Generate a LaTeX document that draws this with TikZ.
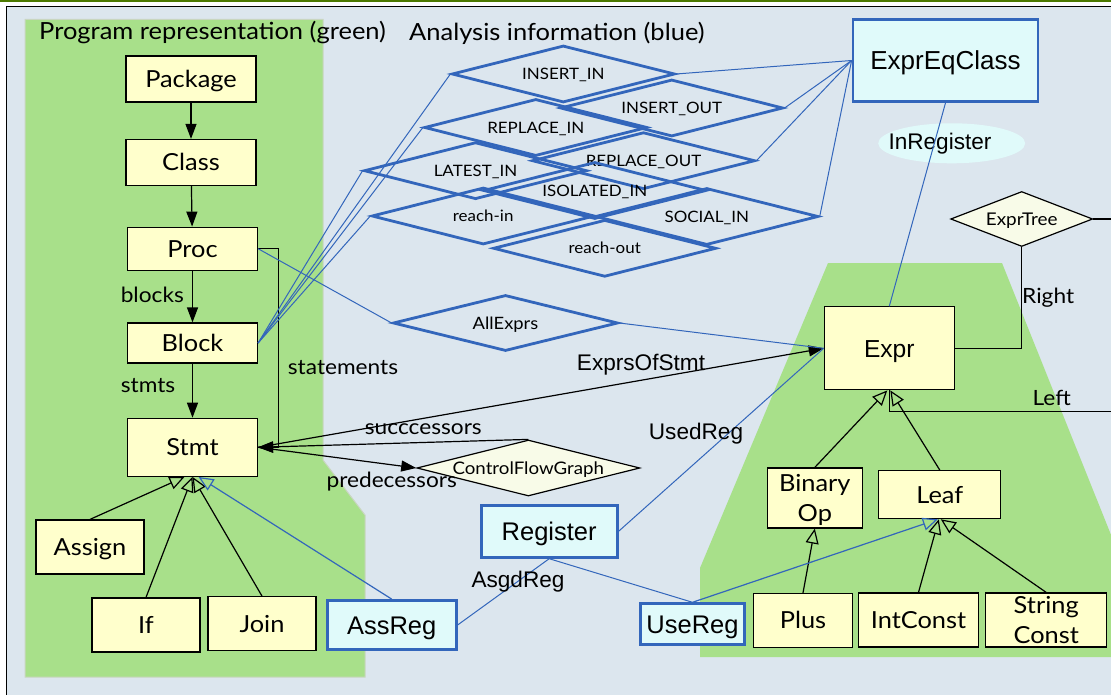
\documentclass[tikz,border=0pt]{standalone}
\usepackage{fontspec}
\setmainfont{Lato}[FakeStretch=1.08]
\newfontfamily\arialfont{Liberation Sans}
\usetikzlibrary{arrows.meta,shapes.geometric}
\definecolor{bgblue}{HTML}{DCE6EE}
\definecolor{pgreen}{HTML}{A8E08A}
\definecolor{pgreenedge}{HTML}{C9D6C0}
\definecolor{boxyellow}{HTML}{FFFFCC}
\definecolor{lineblue}{HTML}{3366BB}
\definecolor{cyanfill}{HTML}{E0FAFA}
\definecolor{relfill}{HTML}{F8FBE8}
\definecolor{topgreen}{HTML}{4C7A00}
\tikzset{
  pbox/.style={draw=black, line width=1.2pt, fill=boxyellow, inner sep=0pt,
    align=center, font=\fontsize{23.5}{30}\selectfont, text height=16.8pt, text depth=0pt},
  twoline/.style={text height=46.8pt, text depth=0pt},
  abox/.style={draw=lineblue, line width=2.8pt, fill=cyanfill, inner sep=0pt,
    font=\arialfont\fontsize{25.5}{28}\selectfont, text height=18.3pt, text depth=0pt},
  bluerel/.style={diamond, aspect=3.9, draw=lineblue, line width=2.8pt, inner sep=0pt,
    minimum width=223, minimum height=57, font=\fontsize{15.7}{18}\selectfont,
    text height=11.2pt, text depth=0pt},
  blackrel/.style={diamond, draw=black, line width=1.2pt, fill=relfill, inner sep=0pt,
    font=\fontsize{17.3}{19}\selectfont, text height=12.4pt, text depth=0pt},
  lbl/.style={inner sep=0pt, font=\fontsize{21}{24}\selectfont},
  alabel/.style={inner sep=0pt, font=\arialfont\fontsize{22.6}{25}\selectfont},
  arr/.style={draw=black, line width=1.2pt, -{Triangle[length=15pt,width=11pt]}},
  inh/.style={draw=black, line width=1.2pt, -{Triangle[open,length=15pt,width=13pt]}},
  blueinh/.style={draw=lineblue, line width=1.2pt, -{Triangle[open,length=15pt,width=13pt]}},
  blueline/.style={draw=lineblue, line width=1pt},
}
\begin{document}
\begin{tikzpicture}[x=1pt,y=-1pt]
\useasboundingbox (0,0) rectangle (1111,695);
\clip (0,0) rectangle (1111,695);
% frame and background
\fill[white] (0,0) rectangle (1111,695);
\fill[topgreen] (0,0) rectangle (1111,1.8);
\fill[bgblue] (6.5,6.5) rectangle (1120,700);
\draw[black, line width=1.3pt] (6.5,700) -- (6.5,6.5) -- (1120,6.5);
% green areas: program representation
\filldraw[fill=pgreen, draw=pgreenedge, line width=1pt]
  (25,19.3) -- (323,19.3) -- (323,460) -- (365,515) -- (365,677) -- (25,677) -- cycle;
\fill[pgreen] (828,263) -- (1002,263) -- (1160,657) -- (700,657) -- (700,568) -- cycle;
% headings
\node[lbl, anchor=west, font=\fontsize{23.6}{26}\selectfont] (hprog) at (39,33) {Program representation (green)};
\node[lbl, anchor=west, font=\fontsize{23.6}{26}\selectfont] (hana) at (409,33) {Analysis information (blue)};

% program classes
\node[pbox, minimum width=130, minimum height=46] (package) at (191,79) {Package};
\node[pbox, minimum width=130, minimum height=46] (class) at (191,162.5) {Class};
\node[pbox, minimum width=130, minimum height=43] (proc) at (192.5,248.7) {Proc};
\node[pbox, minimum width=130, minimum height=40] (block) at (192.5,343) {Block};
\node[pbox, minimum width=130, minimum height=58] (stmt) at (192.5,447.3) {Stmt};
\node[pbox, minimum width=108, minimum height=54] (assign) at (90,547) {Assign};
\node[pbox, minimum width=108, minimum height=54] (if) at (146,625) {If};
\node[pbox, minimum width=108, minimum height=54] (join) at (262,623.7) {Join};
\node[pbox, minimum width=130, minimum height=83, font=\arialfont\fontsize{24.6}{28}\selectfont, text height=17.6pt] (expr) at (889.3,348.3) {Expr};
\node[pbox, twoline, minimum width=95, minimum height=60] (binop) at (814.8,498) {Binary\\Op};
\node[pbox, minimum width=122, minimum height=48] (leaf) at (939.8,494.7) {Leaf};
\node[pbox, minimum width=99, minimum height=54] (plus) at (803,620.5) {Plus};
\node[pbox, minimum width=120, minimum height=54] (intconst) at (918.5,620) {IntConst};
\node[pbox, twoline, minimum width=121, minimum height=54] (strconst) at (1046.2,620) {String\\Const};

% analysis classes
\node[abox, minimum width=185, minimum height=82, font=\arialfont\fontsize{26}{28}\selectfont, text height=18.6pt] (expreq) at (945.5,60.5) {ExprEqClass};
\node[abox, minimum width=136, minimum height=52] (register) at (549.2,531.3) {Register};
\node[abox, minimum width=129, minimum height=49] (assreg) at (391.7,625) {AssReg};
\node[abox, minimum width=104, minimum height=41] (usereg) at (692.5,624.2) {UseReg};

% analysis relations
\node[bluerel] (insertin) at (563.3,74) {INSERT\_IN};
\node[bluerel] (insertout) at (671.7,108) {INSERT\_OUT};
\node[bluerel] (replacein) at (535.8,127.5) {REPLACE\_IN};
\node[bluerel] (replaceout) at (643.5,160.7) {REPLACE\_OUT};
\node[bluerel] (latestin) at (475.5,170.7) {LATEST\_IN};
\node[bluerel] (isolatedin) at (594.8,190.5) {ISOLATED\_IN};
\node[bluerel] (reachin) at (483.2,216) {reach-in};
\node[bluerel] (socialin) at (706.8,216.5) {SOCIAL\_IN};
\node[bluerel] (reachout) at (604.7,248.3) {reach-out};
\node[bluerel, minimum width=225, minimum height=56, font=\fontsize{17}{19}\selectfont, text height=12.2pt] (allexprs) at (505.5,323) {AllExprs};

% program relations
\node[blackrel, aspect=3.9, minimum width=223, minimum height=56] (cfg) at (528.3,468) {ControlFlowGraph};
\node[blackrel, aspect=2.6, minimum width=142, minimum height=55, font=\fontsize{17.5}{19}\selectfont] (exprtree) at (1021.7,219) {ExprTree};

% containment arrows
\draw[arr] (package) -- (class);
\draw[arr] (class) -- (proc);
\draw[arr] (proc) -- (block);
\draw[arr] (block) -- (stmt);
\node[lbl] (lblocks) at (152.3,295) {blocks};
\node[lbl] (lstmts) at (148,386) {stmts};
\draw[arr] (proc.east) -- ++(20,0) |- (stmt.east);
\node[lbl] (lstatements) at (343,368) {statements};

% control flow
\draw[arr] (cfg.north) -- (stmt.east);
\draw[arr] (stmt.east) -- (cfg.west);
\node[lbl] (lsucc) at (423.3,429) {succcessors};
\node[lbl] (lpred) at (391.7,481.7) {predecessors};

% statement inheritance
\draw[inh] (assign.north) -- ([xshift=-8pt]stmt.south);
\draw[inh] (if.north) -- (stmt.south);
\draw[inh] (join.north) -- (stmt.south);
\draw[blueinh] (assreg.north) -- ([xshift=6pt]stmt.south);

% expression inheritance
\draw[inh] (binop.north) -- ([xshift=-2pt]expr.south);
\draw[inh] (leaf.north) -- ([xshift=1pt]expr.south);
\draw[inh] (plus.north) -- (binop.south);
\draw[inh] (intconst.north) -- ([xshift=-1pt]leaf.south);
\draw[inh] (strconst.north) -- ([xshift=1pt]leaf.south);
\draw[blueinh] (usereg.north) -- ([xshift=-2pt]leaf.south);

% expression tree roles
\draw[black, line width=1.2pt] (exprtree.south) |- (expr.east);
\node[lbl, anchor=west] (lright) at (1022,297.7) {Right};
\draw[black, line width=1.2pt] (exprtree.east) -- ++(40,0) |- ([yshift=-21pt]expr.south) -- (expr.south);
\node[lbl] (lleft) at (1051.7,398.3) {Left};

% expressions of a statement
\draw[arr] (stmt.east) -- (expr.west);
\node[alabel] (lexprs) at (641,365) {ExprsOfStmt};

% analysis links
\foreach \r in {insertin,replacein,latestin,reachin}
  \draw[blueline] (block.east) -- (\r.west);
\foreach \r in {insertin,insertout,replaceout,socialin}
  \draw[blueline] (expreq.west) -- (\r.east);
\draw[blueline] (proc.east) -- (allexprs.west);
\draw[blueline] (allexprs.east) -- (expr.west);
\node[ellipse, fill=cyanfill, minimum width=147, minimum height=40, inner sep=0pt] (inreg) at (951.7,143.3) {};
\node[alabel] (linreg) at (940,143.3) {InRegister};
\draw[blueline] (expreq.south) -- (expr.north);
\draw[blueline] (register.east) -- (expr.west);
\node[alabel] (lused) at (696,434) {UsedReg};
\draw[blueline] (register.south) -- (assreg.east);
\node[alabel] (lasgd) at (518,581.7) {AsgdReg};
\draw[blueline] (register.south) -- (usereg.north);
\end{tikzpicture}
\end{document}
